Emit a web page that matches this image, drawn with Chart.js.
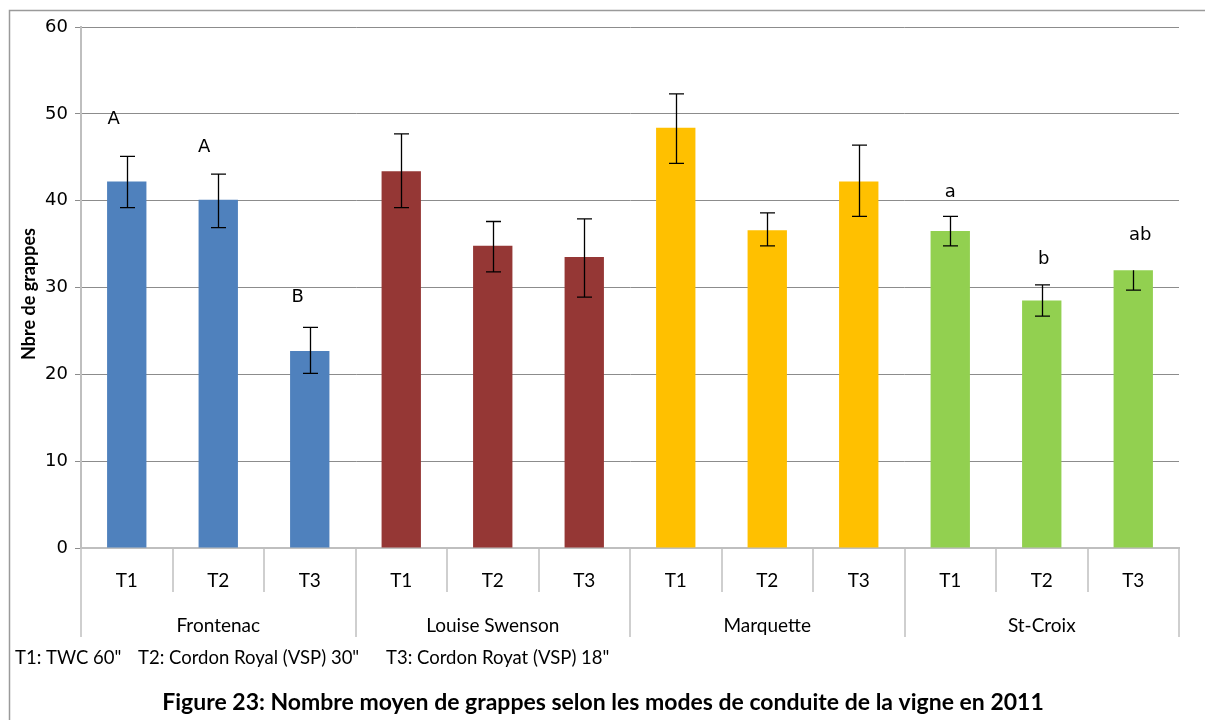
<!DOCTYPE html>
<html>
<head>
<meta charset="utf-8">
<script src="https://cdn.jsdelivr.net/npm/chart.js@4.4.1/dist/chart.umd.min.js"></script>
<style>
  html, body { margin: 0; padding: 0; background: #fff; }
  #wrap { position: relative; width: 1205px; height: 720px; }
</style>
</head>
<body>
<div id="wrap"><canvas id="c" width="1205" height="720"></canvas></div>
<script>
// Mean number of clusters per vine, by cultivar and training system (2011)
const cultivars = ['Frontenac', 'Louise Swenson', 'Marquette', 'St-Croix'];
const treatments = ['T1', 'T2', 'T3'];
const meanClusters = [42.2, 40.1, 22.7, 43.4, 34.8, 33.5, 48.4, 36.6, 42.2, 36.5, 28.5, 32.0];
const errPlus  = [2.9, 2.95, 2.7, 4.3, 2.8, 4.4, 3.9, 2.0, 4.2, 1.7, 1.8, 0];
const errMinus = [3.0, 3.2, 2.6, 4.2, 3.0, 4.6, 4.1, 1.8, 4.0, 1.7, 1.8, 2.3];
// Significance letters and the level (in clusters) where each one sits
const sigLetters  = ['A', 'A', 'B', '', '', '', '', '', '', 'a', 'b', 'ab'];
const letterLevel = [49.4, 46.1, 28.9, null, null, null, null, null, null, 41.0, 33.2, 36.0];
const yTicks = [0, 10, 20, 30, 40, 50, 60];
const yTitle = 'Nbre de grappes';
const treatmentNote = ['T1: TWC 60"', 'T2: Cordon Royal (VSP) 30"', 'T3: Cordon Royat (VSP) 18"'];
const figureTitle = 'Figure 23: Nombre moyen de grappes selon les modes de conduite de la vigne en 2011';

const cultivarColors = ['#4F81BD', '#953735', '#FFC000', '#92D050'];
const barLabels = cultivars.flatMap(() => treatments);
const barColors = barLabels.map((_, i) => cultivarColors[Math.floor(i / treatments.length)]);
// small horizontal nudges for the letters (px)
const letterNudge = [-13, -14, -12, 0, 0, 0, 0, 0, 0, 0, 2, 7];

const SEP = '#bfbfbf';

const decor = {
  id: 'decor',
  afterDatasetsDraw(chart) {
    const { ctx, scales: { x, y } } = chart;
    ctx.save();
    // error bars
    ctx.strokeStyle = '#000';
    ctx.lineWidth = 1.3;
    meanClusters.forEach((v, i) => {
      const px = Math.round(x.getPixelForValue(i)) + 0.5;
      const top = y.getPixelForValue(v + errPlus[i]);
      const bot = y.getPixelForValue(v - errMinus[i]);
      ctx.beginPath();
      ctx.moveTo(px, top); ctx.lineTo(px, bot);
      if (errPlus[i] > 0) { ctx.moveTo(px - 7.5, top); ctx.lineTo(px + 7.5, top); }
      if (errMinus[i] > 0) { ctx.moveTo(px - 7.5, bot); ctx.lineTo(px + 7.5, bot); }
      ctx.stroke();
    });
    // significance letters
    ctx.fillStyle = '#000';
    ctx.font = '18px "DejaVu Sans"';
    ctx.textAlign = 'center';
    ctx.textBaseline = 'middle';
    sigLetters.forEach((t, i) => {
      if (!t) return;
      ctx.fillText(t, x.getPixelForValue(i) + letterNudge[i], y.getPixelForValue(letterLevel[i]));
    });
    ctx.restore();
  },
  afterDraw(chart) {
    const { ctx, chartArea: a, scales: { x } } = chart;
    const n = barLabels.length;
    const step = (a.right - a.left) / n;
    ctx.save();
    // category separators below the axis
    ctx.strokeStyle = SEP;
    ctx.lineWidth = 1.5;
    for (let i = 0; i <= n; i++) {
      const bx = Math.round(a.left + i * step);
      const isGroup = i % treatments.length === 0;
      ctx.beginPath();
      ctx.moveTo(bx, a.bottom);
      ctx.lineTo(bx, a.bottom + (isGroup ? 89 : 44));
      ctx.stroke();
    }
    // treatment labels
    ctx.fillStyle = '#000';
    ctx.textAlign = 'center';
    ctx.textBaseline = 'middle';
    ctx.font = '19px Lato';
    barLabels.forEach((t, i) => ctx.fillText(t, x.getPixelForValue(i), a.bottom + 33));
    // cultivar labels
    cultivars.forEach((c, g) => {
      const cx = a.left + (g * treatments.length + treatments.length / 2) * step;
      ctx.fillText(c, cx, a.bottom + 78);
    });
    // y-axis title
    ctx.save();
    ctx.translate(29, 294);
    ctx.rotate(-Math.PI / 2);
    ctx.font = 'bold 18px Lato';
    ctx.fillText(yTitle, 0, 0);
    ctx.restore();
    // treatment key
    ctx.textAlign = 'left';
    ctx.font = '18.5px Lato';
    const noteX = [15, 138, 386];
    treatmentNote.forEach((t, i) => ctx.fillText(t, noteX[i], 658));
    // figure caption
    ctx.textAlign = 'center';
    ctx.font = 'bold 23px Lato';
    ctx.fillText(figureTitle, 603, 703);
    // outer frame
    ctx.strokeStyle = '#9a9a9a';
    ctx.lineWidth = 1.5;
    ctx.beginPath();
    ctx.moveTo(9.5, 720); ctx.lineTo(9.5, 10.5); ctx.lineTo(1205, 10.5);
    ctx.stroke();
    ctx.restore();
  }
};

new Chart(document.getElementById('c'), {
  type: 'bar',
  data: {
    labels: barLabels,
    datasets: [{
      data: meanClusters,
      backgroundColor: barColors,
      borderWidth: 0,
      barPercentage: 0.43,
      categoryPercentage: 1
    }]
  },
  options: {
    responsive: false,
    animation: false,
    layout: { padding: { top: 27, right: 26, left: 0, bottom: 0 } },
    plugins: { legend: { display: false }, tooltip: { enabled: false } },
    scales: {
      x: {
        type: 'category',
        ticks: { display: false },
        grid: { display: false },
        border: { color: SEP, width: 2 },
        afterFit(s) { s.height = 172; }
      },
      y: {
        min: 0, max: 60,
        afterBuildTicks(s) { s.ticks = yTicks.map(v => ({ value: v })); },
        ticks: { color: '#000', font: { family: 'DejaVu Sans', size: 18 }, padding: 7 },
        grid: { color: '#8c8c8c', lineWidth: 1, tickLength: 6 },
        border: { color: SEP, width: 2 },
        afterFit(s) { s.width = 81; }
      }
    }
  },
  plugins: [decor]
});
</script>
</body>
</html>
